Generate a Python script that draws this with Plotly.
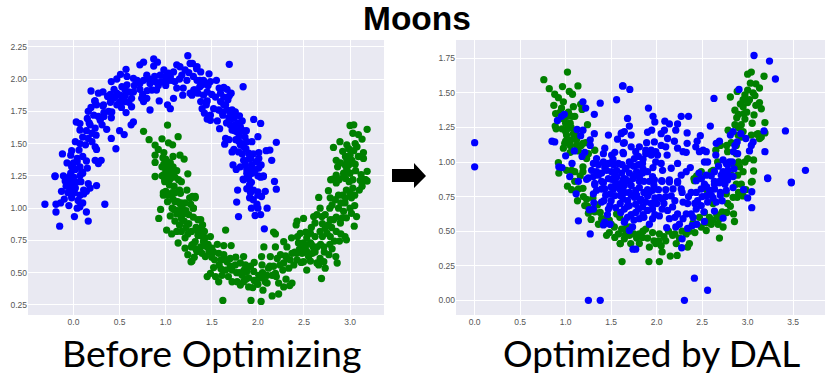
import plotly.graph_objects as go

# values, (x, y)
before_blue = [
    (-.31,1.03),(-.19,1.03),(-.19,.97),(-.15,.86),(-.14,1.04),(-.10,1.07),(-.05,1.02),(.01,.935),(.04,1.0),(.07,1.01),
    (.10,1.04),(.14,.97),(.16,.90),(.34,1.03),(.25,1.175),(.16,1.19),(.18,1.155),(.14,1.13),(.11,1.14),(.07,1.10),
    (.11,1.11),(.08,1.205),(-.13,1.13),(-.02,1.08),(-.02,1.10),(-.04,1.155),(-.08,1.17),(.02,1.155),(-.05,1.19),(-.02,1.22),
    (-.09,1.21),(.0,1.24),(-.2,1.245),(.07,1.25),(.10,1.27),(-.05,1.24),(-.11,1.25),(.0,1.19),(-.03,1.14),(.01,1.12),
    (-.2,1.25),(-.12,1.42),(-.02,1.445),(-.03,1.41),(-.07,1.35),(.04,1.385),(.10,1.40),(.0,1.35),(.04,1.36),(.07,1.32),
    (-.02,1.32),(.02,1.30),(.09,1.28),(.15,1.31),(.14,1.365),(.235,1.37),(.30,1.37),(.27,1.345),(.02,1.515),(.07,1.50),
    (.13,1.49),(.16,1.54),(.20,1.515),(.235,1.475),(.25,1.455),(.46,1.46),(.41,1.54),(.245,1.565),(.50,1.60),(.55,1.57),
    (.625,1.645),(.65,1.667),(.36,1.61),(.03,1.667),(.07,1.655),(.07,1.605),(.14,1.60),(.15,1.695),(.18,1.645),(.235,1.62),
    (.27,1.71),(.31,1.645),(.33,1.71),(.38,1.75),(.41,1.70),(.57,1.74),(.52,1.78),(.16,1.75),(.19,1.78),(.23,1.83),
    (.25,1.80),(.32,1.79),(.40,1.82),(.45,1.86),(.50,1.82),(.56,1.87),(.60,1.82),(.51,2.036),
    (1.24,2.18),(.87,2.155),(.76,2.13),(.72,2.11),(.91,2.13),(.87,2.10),(.57,2.075),(.19,1.907),(.27,1.89),(.32,1.90),
    (.41,1.98),(.47,2.0),(.58,2.02),(.65,2.005),(.69,1.99),(.72,1.965),(.795,2.03),(.76,1.99),(.83,1.965),(.885,1.98),
    (.92,1.95),(.98,2.07),(.94,2.03),(.995,2.02),(1.01,1.98),(1.085,2.055),(1.12,2.11),(1.155,2.095),(1.175,2.03),(1.23,1.99),
    (1.265,2.12),(1.34,2.095),(1.34,1.99),(1.37,1.94),(1.32,1.915),(1.265,1.89),(1.185,1.875),(1.19,1.93),(1.12,1.93),(1.085,1.85),
    (1.05,1.77),(1.02,1.80),(.93,1.83),(.83,1.76),(.795,1.85),(.74,1.85),(.76,1.825),(.65,1.90),(.63,1.85),(.63,1.785),
    (.56,1.825),(.505,1.875),(.56,1.915),(.525,1.94),(.58,1.955),(.47,1.89),(.435,1.85),(.47,1.80),(.37,1.865),(.415,1.745),
    (.325,1.80),(.235,1.83),(.85,1.915),(.90,1.915),(.80,1.91),(.75,1.88),(1.0,1.95),(1.06,1.99),(1.21,2.07),(1.03,2.045),
    (1.10,1.98),(1.29,2.12),(1.335,2.08),(1.38,2.055),(1.37,1.99),(1.395,1.955),(1.43,1.965),(1.485,1.98),(1.55,1.99),(1.305,1.915),
    (1.35,1.89),(1.285,1.875),(1.45,1.90),(1.41,1.875),(1.38,1.825),(1.45,1.83),(1.395,1.77),(1.42,1.735),(1.485,1.72),(1.45,1.69),
    (1.485,1.68),(1.56,1.675),(1.585,1.615),(1.54,1.86),(1.595,1.89),(1.63,1.935),(1.665,1.92),(1.71,1.89),(1.63,1.86),(1.675,1.84),
    (1.595,1.825),(1.63,1.80),(1.575,1.76),(1.61,1.745),(1.665,1.76),(1.72,1.76),(1.755,1.745),(1.80,1.715),(1.685,1.70),(1.72,1.695),
    (1.83,1.675),(1.70,1.645),(1.755,1.645),(1.81,1.63),(1.72,1.605),(1.775,1.59),(1.80,1.56),(1.65,1.54),(1.685,1.53),(1.64,1.495),
    (1.88,1.515),(1.935,1.515),(1.81,1.49),(1.845,1.475),(1.74,1.455),(1.72,1.435),(1.79,1.435),(1.83,1.42),(1.90,1.425),(2.01,1.43),
    (1.845,1.37),(1.92,1.385),(2.01,1.385),(1.73,1.335),(1.765,1.30),(1.81,1.32),(1.865,1.335),(1.935,1.335),(2.035,1.335),(1.97,1.295),
    (2.01,1.31),(1.88,1.27),(1.935,1.27),(2.025,1.245),(2.06,1.245),(1.845,1.22),(1.90,1.23),(1.69,2.114),(1.47,2.04),(1.84,1.94),
    (1.955,1.687),(2.03,1.656),(2.20,1.51),(2.13,1.45),(2.09,1.445),(2.15,1.37),(2.0,1.553),(1.875,1.60),(2.18,1.207),(2.20,1.147),
    (2.08,1.13),(2.10,1.0),(1.77,1.047),(1.78,1.14),(1.79,.935),(2.07,.84),(2.03,.95),(1.97,.943),(1.93,1.0),(2.0,1.0),
    (1.99,1.03),(1.91,1.08),(1.95,1.065),(2.0,1.10),(2.04,1.09),(1.92,1.12),(1.88,1.15),(1.91,1.18),(1.95,1.14),(2.0,1.125),
    (1.84,1.225),(1.89,1.24),(1.93,1.20),(2.03,1.24),(2.06,1.25),
    (1.62,1.72),(1.66,1.66),(1.70,1.74),(1.74,1.70),(1.78,1.66),(1.76,1.53),(1.80,1.63),(1.84,1.60),(1.86,1.55),(1.75,1.60),
    (1.79,1.52),(1.83,1.50),(1.87,1.46),(1.90,1.38),(1.95,1.42),(1.98,1.36),(1.88,1.30),(1.95,1.30),(2.0,1.25),(1.92,1.27),
    (1.65,1.80),(1.69,1.87),(1.58,1.93),(1.46,1.95),(1.41,1.99),(1.30,2.02),(1.25,2.05),(1.15,2.0),(1.05,2.02),(.95,1.98),
    (.88,2.02),(.82,2.0),(.72,1.92),(.66,1.95),(.6,1.9),(.53,1.85),(.44,1.92),(.40,1.88),(.33,1.74),(.29,1.68),
    (.22,1.72),(.17,1.66),(.10,1.55),(.20,1.58),(.06,1.45),(.0,1.3),(-.03,1.27),(.03,1.20),(-.06,1.12),(.05,1.06),
    (1.44,1.80),(1.50,1.88),(1.52,1.77),
]

before_green = [
    (.76,1.595),(1.02,1.643),(.82,1.53),(1.135,1.553),(.96,1.537),(1.03,1.506),(1.075,1.49),(.885,1.488),(.92,1.455),(.885,1.41),
    (.98,1.43),(1.08,1.40),(1.155,1.41),(1.20,1.38),(.885,1.354),(.97,1.39),(1.0,1.35),(1.24,1.266),(.96,1.25),(.885,1.245),
    (.99,1.22),(1.03,1.26),(1.07,1.28),(1.00,1.30),(1.04,1.32),(.98,1.34),(1.02,1.36),(.96,1.32),(1.05,1.35),(1.0,1.38),
    (1.03,1.30),(1.06,1.25),(1.10,1.24),(1.14,1.22),(.99,1.205),(1.05,1.23),(1.17,1.205),(1.23,1.14),(1.16,1.115),(1.09,1.17),
    (1.04,1.18),(1.0,1.13),(.975,1.10),(.975,1.12),(1.03,1.10),(1.07,1.12),(1.32,1.09),(1.26,1.08),(1.17,1.04),(1.30,1.0),
    (.945,.99),(.925,.92),(1.07,1.0),(1.05,.94),(1.12,.955),(1.19,.955),(1.20,.90),(1.09,.99),(1.01,.83),(1.065,.80),
    (1.12,.82),(1.17,.82),(1.135,.73),(1.21,.77),(1.21,.69),(1.275,.585),(1.24,.64),(1.30,.72),(1.35,.91),(1.33,.85),
    (1.35,.79),(1.10,.90),(1.15,.87),(1.13,1.05),(1.21,1.04),(1.25,.95),(1.1,1.05),(1.24,.80),(1.28,.70),(1.33,.68),
    (1.31,.62),(1.29,1.09),(1.32,1.08),(1.30,1.0),(1.38,.91),(1.40,.87),(1.34,.83),(1.36,.79),(1.43,.77),(1.485,.78),
    (1.32,.74),(1.285,.715),(1.38,.70),(1.45,.70),(1.50,.69),(1.395,.65),(1.43,.625),(1.34,.665),(1.285,.59),(1.63,.71),
    (1.71,.71),(1.65,.83),(1.575,.65),(1.63,.64),(1.70,.61),(1.52,.54),(1.45,.47),(1.485,.495),(1.54,.47),(1.575,.43),
    (1.61,.48),(1.65,.52),(1.665,.585),(1.72,.52),(1.755,.56),(1.72,.43),(1.775,.43),(1.81,.405),(1.845,.625),(1.81,.575),
    (1.865,.56),(1.88,.51),(1.83,.48),(1.845,.43),(1.90,.39),(1.945,.385),(1.955,.51),(2.01,.48),(1.99,.43),(2.045,.46),
    (2.055,.365),(2.08,.43),(2.04,.625),(2.065,.70),(2.045,.56),(2.115,.535),(2.135,.625),(2.19,.70),(2.155,.48),(2.19,.495),
    (2.225,.42),(2.28,.39),(2.345,.40),(2.37,.42),(2.305,.45),(2.19,.80),(2.17,.815),(2.28,.74),(2.315,.70),(2.365,.77),
    (2.245,.64),(2.315,.61),(2.28,.575),(2.335,.535),(2.39,.56),(2.425,.60),(2.37,.65),(2.44,.73),(2.495,.73),(2.53,.77),
    (2.46,.805),(2.52,.815),(2.57,.805),(2.425,.90),(2.495,.92),(2.415,.87),(2.66,1.083),(2.765,1.135),(2.675,1.0),(2.605,.935),
    (2.64,.95),(2.62,.885),(2.695,.935),(2.73,.95),(2.785,.91),(2.82,.91),(2.765,.87),(2.73,.845),(2.675,.82),(2.62,.78),
    (2.75,.805),(2.785,.78),(2.85,.82),(2.83,.745),(2.885,.745),(2.945,.78),(2.96,.755),(3.045,.86),(2.895,.885),(2.915,.925),
    (2.96,.925),(3.015,.96),(3.07,.935),(2.93,.975),(2.875,1.0),(2.805,1.025),(2.84,1.065),(2.785,1.08),(2.875,1.10),(2.945,1.04),
    (3.015,1.08),(3.05,1.10),(2.96,1.14),(3.03,1.155),(2.99,1.205),(2.85,1.195),(2.79,1.22),(2.93,1.245),(3.13,1.205),(3.165,1.22),
    (3.13,1.17),(3.185,1.21),(2.57,.73),(2.64,.70),(2.715,.70),(2.805,.685),(2.77,.64),(2.845,.625),(2.86,.575),(2.675,.61),
    (2.715,.585),(2.64,.575),(2.73,.535),(2.53,.52),(2.495,.585),(2.55,.625),(2.48,.65),(2.59,.65),(2.66,.56),(2.69,.455),
    (2.53,.665),(2.515,.70),(3.0,1.64),(3.04,1.645),(3.185,1.61),(3.03,1.58),(3.09,1.57),(3.13,1.535),(2.89,1.515),(2.82,1.47),
    (2.965,1.49),(3.055,1.50),(3.075,1.475),(2.985,1.46),(3.04,1.445),(3.145,1.43),(3.09,1.40),(3.145,1.385),(2.95,1.40),(3.0,1.41),
    (2.965,1.365),(2.85,1.37),(2.895,1.35),(2.865,1.32),(3.055,1.34),(2.985,1.335),(2.965,1.30),(2.93,1.27),(2.85,1.255),(2.81,1.225),
    (3.185,1.285),(3.0,1.27),(3.11,1.215),(3.165,1.22),(2.95,1.23),(1.62,.285),(1.925,.285),(2.035,.278),(2.155,.32),(2.225,.335),
    (1.41,.74),(1.47,.66),(1.53,.60),(1.58,.56),(1.77,.50),(1.90,.46),(1.96,.44),(2.10,.48),(2.24,.56),(2.40,.66),
    (2.60,.70),(1.50,.62),(1.60,.53),(1.68,.47),(1.87,.45),(2.0,.41),(2.13,.55),(2.21,.61),(2.45,.68),(2.57,.59),
    (1.02,1.05),(1.08,1.07),(1.15,1.14),(1.12,1.29),(1.16,1.03),(1.27,1.03),(1.22,.98),(1.30,.93),(1.25,.88),(1.28,.82),
    (1.22,.85),(1.38,.84),(1.42,.82),(1.46,.72),(1.40,.78),(1.52,.66),(1.56,.72),(1.60,.60),(1.65,.60),(1.70,.55),
    (1.76,.62),(1.80,.50),(1.85,.52),(1.92,.55),(1.96,.58),(2.05,.50),(2.10,.42),(2.17,.55),(2.20,.47),(2.27,.52),
    (2.30,.63),(2.35,.60),(2.42,.65),(2.47,.58),(2.43,.78),(2.50,.66),(2.58,.72),(2.62,.66),(2.68,.72),(2.70,.78),
    (2.72,.66),(2.78,.72),(2.80,.85),(2.85,.93),(2.90,.80),(2.92,1.10),(2.90,1.04),(2.95,1.08),(3.0,1.0),(3.0,1.12),
    (3.05,1.02),(3.1,1.14),(3.12,1.26),(3.03,1.22),(2.95,1.33),(2.92,1.44),(3.02,1.37),(3.06,1.29),(2.88,1.22),(2.78,1.0),
    (2.7,.88),(2.58,.85),(2.46,.68),(1.04,1.22),(1.08,1.32),(.98,1.26),(1.1,1.12),(1.18,1.0),(1.13,.98),(1.17,.92),
]

after_blue = [
    (0,1.14),(0,.965),(1.19,1.435),(1.22,1.39),(1.38,1.425),(1.56,1.45),(1.63,1.55),(1.315,1.345),(.985,1.345),(.955,1.33),
    (.91,1.30),(1.125,1.235),(1.19,1.23),(1.165,1.19),(1.315,1.205),(1.47,1.195),(1.615,1.21),(1.57,1.165),(1.27,1.16),(1.27,1.12),
    (.85,1.15),(.88,1.145),(1.095,1.08),(1.0,1.045),(1.21,1.07),(1.18,1.04),(1.07,.99),(.925,.965),(.96,.96),(1.045,.895),
    (1.14,.86),(1.23,.875),(1.25,.885),(1.415,1.06),(1.43,1.10),(1.505,1.05),(1.54,1.07),(1.635,1.06),(1.635,1.135),(1.34,1.025),
    (1.305,.99),(1.36,.98),(1.415,1.0),(1.47,.99),(1.525,.98),(1.58,.99),(1.285,.94),(1.34,.93),(1.395,.92),(1.45,.94),
    (1.505,.93),(1.56,.94),(1.615,.92),(1.305,.895),(1.36,.905),(1.47,.88),(1.54,.905),(1.32,.845),(1.395,.86),(1.415,.85),
    (1.505,.875),(1.56,.89),(1.635,.875),(1.115,.77),(1.14,.575),(1.27,.48),(1.25,0),(1.38,0),(1.26,.655),(1.305,.66),
    (1.31,.705),(1.305,.77),(1.34,.795),(1.395,.71),(1.32,.835),(1.415,.545),(1.43,.565),(1.487,.55),(1.46,.62),(1.47,.66),
    (1.55,.67),(1.395,.805),(1.43,.805),(1.49,.77),(1.525,.805),(1.487,.685),(1.60,.757),(1.63,.733),(1.54,.757),(1.65,.575),
    (2.415,.16),(2.56,.073),(2.305,0),(2.28,.445),(2.275,.38),(1.77,.37),(1.74,.37),(2.525,.57),(2.73,.595),(2.635,.645),
    (3.045,.67),(3.045,.785),(3.0,.74),(2.955,.80),(3.22,.88),(3.48,.85),(2.44,.55),(2.39,.54),(2.34,.52),(2.21,.53),
    (2.11,.525),(2.14,.59),(2.25,.55),(2.29,.59),(2.325,.625),(2.38,.625),(2.435,.66),(2.49,.685),(2.34,.70),(2.29,.71),
    (2.23,.625),(2.175,.675),(2.12,.65),(2.03,.61),(1.955,.59),(1.92,.55),(1.81,.59),(1.735,.53),(1.70,.505),(1.645,.565),
    (1.77,.635),(1.845,.675),(1.90,.65),(1.955,.66),(1.70,.685),(1.645,.66),(1.605,.635),(1.77,.695),(1.83,.73),(1.88,.71),
    (1.755,.745),(1.68,.72),(1.70,.78),(1.77,.795),(1.81,.815),(1.90,.755),(1.955,.795),(2.03,.745),(2.065,.73),(2.16,.755),
    (2.18,.805),(2.27,.805),(2.38,.78),(2.435,.78),(2.49,.805),(2.545,.755),(2.635,.805),(2.655,.71),(2.56,.71),(2.69,.85),
    (2.765,.795),(2.84,.815),(2.635,.84),(2.49,.88),(2.435,.865),(2.14,.855),(2.06,.86),(1.975,.87),(1.81,.89),(1.66,.875),
    (1.645,.83),(2.23,.85),(2.525,.84),(2.58,.795),(2.73,.88),(3.07,1.77),(3.24,1.73),(3.305,1.60),(2.905,1.525),(2.63,1.46),
    (1.625,1.55),(1.705,1.525),(1.91,1.39),(1.68,1.315),(1.96,1.33),(1.98,1.29),(2.27,1.33),(2.35,1.33),(2.09,1.295),(2.14,1.275),
    (2.23,1.275),(2.21,1.23),(2.335,1.21),(2.59,1.26),(2.48,1.19),(2.445,1.15),(2.43,1.11),(1.70,1.26),(3.415,1.225),(3.18,1.225),
    (3.635,.94),(3.48,.855),(3.22,.885),(3.19,1.075),(1.61,1.205),(1.645,1.22),(1.72,1.195),(1.645,1.14),(1.72,1.11),(1.63,1.07),
    (1.90,1.215),(1.945,1.23),(2.05,1.205),(2.085,1.23),(2.12,1.17),(2.195,1.15),(2.335,1.135),(1.89,1.14),(1.975,1.145),(2.05,1.12),
    (2.10,1.11),(2.23,1.10),(2.29,1.075),(2.325,1.07),(1.81,1.11),(1.77,1.075),(1.88,1.085),(1.94,1.085),(1.99,1.075),(1.88,1.06),
    (1.94,1.05),(2.01,1.05),(2.115,1.05),(1.755,1.025),(1.715,.98),(1.66,.955),(1.845,.99),(1.99,1.0),(2.05,.99),(2.23,.99),
    (2.37,.96),(2.325,.93),(2.27,.905),(2.16,.955),(2.065,.94),(1.955,.895),(1.845,.92),(1.70,.92),(1.645,.88),(2.23,.86),
    (2.14,.87),(2.055,.865),(1.81,.86),(2.47,1.075),(2.51,1.085),(2.545,1.075),(2.65,1.05),(2.655,1.135),(2.69,1.15),(2.525,1.0),
    (2.56,1.0),(2.465,.92),(2.545,.905),(2.49,.88),(2.635,.93),(2.73,1.015),(2.765,.99),(2.80,1.0),(2.845,1.075),(2.84,1.22),
    (2.81,1.195),(2.885,1.145),(2.89,1.06),(2.925,1.205),(2.98,1.17),(3.06,1.145),(3.04,1.12),(3.02,1.08),(2.73,.93),(2.71,.905),
    (2.785,.94),(2.765,.905),(2.84,.895),(2.635,.86),(2.69,.86),(2.745,.87),(1.85,.95),(1.75,.90),(1.90,.80),(1.72,.83),
    (1.60,.80),(1.68,.68),(1.85,.62),(1.75,.58),(2.0,.70),(2.10,.80),(2.45,.72),(2.60,.76),(2.70,.78),
    (1.62,.98),(1.66,.95),(1.7,1.0),(1.75,.97),(1.8,.98),(1.78,.93),(1.74,.88),(1.7,.86),(1.65,.78),(1.72,.76),
    (1.78,.76),(1.82,.72),(1.86,.78),(1.92,.78),(1.98,.74),(1.86,.86),(1.92,.86),(1.9,.93),(1.96,.96),(1.85,1.02),
    (1.8,1.04),(1.97,.83),(2.02,.80),(1.72,.62),(1.68,.60),(1.8,.66),(1.86,.6),(1.98,.62),(2.06,.66),(2.08,.70),
    (1.94,.7),(2.1,.75),(2.2,.72),(2.28,.78),(2.35,.75),(2.42,.7),(2.5,.75),(2.55,.82),(2.62,.74),(2.7,.76),
    (2.75,.84),(2.8,.9),(2.78,.98),(2.68,.97),(2.6,.9),(2.85,.95),(2.83,1.0),(2.86,1.12),(2.78,.87),(2.72,.72),
    (2.52,.64),(2.4,.6),(2.2,.6),(1.55,.85),(1.58,.82),(1.5,.82),(1.44,.76),(1.42,.72),(1.5,.72),(1.6,.7),
    (1.62,.85),(1.43,.96),(1.52,1.02),
]

after_green = [
    (1.02,1.65),(.76,1.595),(.82,1.53),(.965,1.545),(1.135,1.55),(1.04,1.51),(1.075,1.49),(.88,1.49),(.92,1.465),(.975,1.435),
    (.87,1.41),(.955,1.39),(1.085,1.40),(1.165,1.417),(1.18,1.38),(.89,1.35),(1.03,1.36),(1.10,1.33),(.98,1.31),(1.05,1.28),
    (1.24,1.27),(.885,1.26),(.895,1.24),(1.00,1.22),(1.06,1.25),(1.12,1.19),(.92,.995),(.925,.92),(1.01,.94),(1.065,.94),
    (1.10,.93),(1.19,.965),(1.19,.93),(1.23,1.025),(1.32,1.085),(1.25,1.06),(.975,1.10),(.99,1.135),(1.05,1.12),(1.12,1.12),
    (1.19,1.135),(1.01,1.195),(1.085,1.205),(1.02,1.24),(1.12,1.16),(1.17,1.12),(1.02,.825),(1.065,.80),(1.14,.805),(1.19,.81),
    (1.13,.72),(1.195,.75),(1.23,.73),(1.21,.685),(1.25,.63),(1.28,.585),(1.38,.635),(1.395,.59),(1.45,.47),(1.48,.49),
    (1.54,.455),(1.60,.41),(1.615,.515),(1.535,.53),(1.62,.28),(1.56,.625),(1.595,.60),(1.65,.47),(1.915,.28),(2.03,.28),
    (2.15,.32),(2.225,.325),(2.69,.45),(2.06,.35),(1.92,.385),(1.81,.41),(1.715,.41),(1.645,.445),(1.845,.455),(1.99,.41),
    (2.05,.395),(2.215,.41),(2.34,.385),(2.36,.41),(2.325,.48),(2.10,.43),(2.175,.47),(2.03,.48),(1.955,.49),(1.88,.515),
    (1.81,.48),(2.545,.505),(2.49,.53),(2.675,.55),(2.73,.53),(2.855,.57),(2.845,.625),(2.77,.635),(2.81,.68),(2.69,.59),
    (2.58,.60),(2.525,.635),(2.84,.745),(2.885,.745),(2.95,.755),(3.04,.855),(2.93,.84),(2.875,.84),(2.765,.77),(2.415,.865),
    (1.6,.41),(3.0,1.635),(3.04,1.65),(3.18,1.62),(3.03,1.57),(3.09,1.565),(3.13,1.535),(2.885,1.51),(2.81,1.47),(2.97,1.485),
    (3.06,1.50),(3.08,1.48),(3.13,1.43),(3.09,1.41),(3.15,1.385),(3.0,1.43),(2.95,1.40),(2.99,1.36),(3.07,1.34),(2.86,1.375),
    (2.90,1.345),(2.88,1.32),(2.97,1.31),(2.93,1.27),(2.86,1.27),(3.19,1.285),(2.785,1.23),(3.19,1.21),(3.13,1.17),(2.77,1.12),
    (2.41,.88),(2.62,.94),(2.67,1.0),(2.65,1.085),(2.78,1.075),(2.875,1.12),(2.875,1.06),(2.91,.965),(2.95,.93),(2.89,.905),
    (2.82,.905),(3.065,1.015),(3.065,.935),(3.05,.86),(3.0,1.025),(3.04,1.195),(3.115,1.205),(3.15,1.18),(2.895,1.195),(2.93,1.18),
    (2.60,.93),(2.49,.93),(2.44,.90),(2.55,.80),(1.30,.74),(1.35,.69),(1.45,.60),(1.50,.55),(1.70,.47),(1.75,.48),
    (2.25,.45),(2.42,.49),(2.60,.55),
    (1.7,.53),(1.78,.45),(1.85,.5),(1.9,.45),(1.97,.43),(2.02,.43),(2.08,.46),(2.13,.5),(2.2,.48),(2.28,.5),
    (2.36,.5),(2.4,.56),(2.47,.6),(2.55,.56),(2.62,.58),(2.66,.62),(2.72,.64),(2.78,.7),(2.62,.7),(2.9,.78),
    (2.98,.8),(1.1,.86),(1.16,.9),(1.24,.68),(1.32,.64),(1.36,.55),(1.42,.55),(1.48,.58),(1.58,.48),(1.66,.52),
    (1.0,1.28),(.96,1.24),(1.02,1.33),(.94,1.36),(1.07,1.33),(1.0,1.15),(1.06,1.16),(1.14,1.08),(1.22,1.14),(1.05,1.07),
    (3.0,1.52),(2.95,1.45),(3.02,1.45),(2.92,1.42),(2.96,1.35),(2.9,1.25),(2.82,1.14),(2.95,1.22),(3.05,1.28),(3.1,1.2),
    (2.9,1.0),(2.97,1.0),(2.85,.97),(2.7,1.12),
]

before_xticks = [-0.5, 0.0, 0.5, 1.0, 1.5, 2.0, 2.5, 3.0]
before_yticks = [0.25, 0.50, 0.75, 1.00, 1.25, 1.50, 1.75, 2.00, 2.25]
after_xticks = [0.0, 0.5, 1.0, 1.5, 2.0, 2.5, 3.0, 3.5]
after_yticks = [0.00, 0.25, 0.50, 0.75, 1.00, 1.25, 1.50, 1.75]

W, H = 830, 374
BLUE = "#0000ff"
GREEN = "#008000"


def add_points(points, color, xaxis, yaxis):
    xs, ys = zip(*points)
    fig.add_trace(go.Scatter(
        x=xs, y=ys, mode="markers", xaxis=xaxis, yaxis=yaxis, showlegend=False,
        marker=dict(color=color, size=7.3, line=dict(width=0)),
    ))


fig = go.Figure()
add_points(before_blue, BLUE, "x", "y")
add_points(before_green, GREEN, "x", "y")
add_points(after_green, GREEN, "x2", "y2")
add_points(after_blue, BLUE, "x2", "y2")

axis_style = dict(
    showgrid=True, gridcolor="white", gridwidth=1.4, zeroline=False, showline=False,
    ticks="", tickfont=dict(family="Liberation Sans", size=8.5, color="#555555"),
)

fig.update_layout(
    width=W, height=H, margin=dict(l=0, r=0, t=0, b=0),
    paper_bgcolor="white", plot_bgcolor="#e9e9f2",
    xaxis=dict(domain=[28 / W, 384 / W], range=[-0.4935, 3.368], tickvals=before_xticks, tickformat=".1f", **axis_style),
    yaxis=dict(domain=[59 / H, 334 / H], range=[0.1725, 2.302], tickvals=before_yticks, tickformat=".2f", **axis_style),
    xaxis2=dict(domain=[456 / W, 825 / W], range=[-0.205, 3.85], tickvals=after_xticks, tickformat=".1f", anchor="y2", **axis_style),
    yaxis2=dict(domain=[59 / H, 334 / H], range=[-0.106, 1.882], tickvals=after_yticks, tickformat=".2f", anchor="x2", **axis_style),
)

big_text = dict(xref="paper", yref="paper", showarrow=False, xanchor="center", yanchor="middle")
fig.add_annotation(x=417 / W, y=1 - 19 / H, text="<b>Moons</b>",
                   font=dict(family="Liberation Sans", size=33.5, color="black"), **big_text)
fig.add_annotation(x=211 / W, y=1 - 352 / H, text="Before Optimizing",
                   font=dict(family="Lato", size=37.5, color="black"), **big_text)
fig.add_annotation(x=651 / W, y=1 - 352 / H, text="Optimized by DAL",
                   font=dict(family="Lato", size=37, color="black"), **big_text)

# the block arrow between the panels
fig.add_shape(
    type="path", xref="paper", yref="paper", line_width=0, fillcolor="black",
    path=f"M {392 / W} {1 - 169 / H} L {414 / W} {1 - 169 / H} L {414 / W} {1 - 163 / H} "
         f"L {426 / W} {1 - 176 / H} L {414 / W} {1 - 188 / H} L {414 / W} {1 - 182 / H} "
         f"L {392 / W} {1 - 182 / H} Z",
)

fig.write_html("out.html", config={"displayModeBar": False},
               post_script="document.body.style.margin='0';document.body.style.overflow='hidden';")
